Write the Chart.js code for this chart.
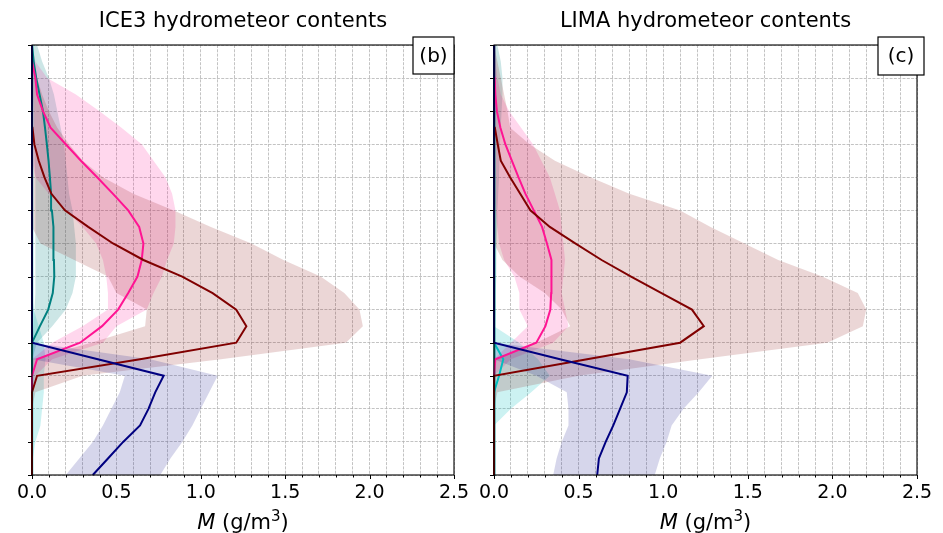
<!DOCTYPE html>
<html lang="en">

<head>
    <meta charset="UTF-8">
    <title>Hydrometeor contents</title>
    <script src="https://cdn.jsdelivr.net/npm/chart.js"></script>
    <style>
        body { margin: 0; background: #fff; }
        .panel { position: absolute; top: 0; }
    </style>
</head>

<body>
    <canvas id="chartIce3" class="panel" width="478" height="533" style="left:0px"></canvas>
    <canvas id="chartLima" class="panel" width="473" height="533" style="left:470px"></canvas>

<script>
    // model levels, bottom to top
    const levels = [0, 0.5, 1, 1.5, 2, 2.5, 3, 3.5, 4, 4.5, 5, 5.5, 6, 6.5, 7, 7.5, 8, 8.5, 9, 9.5, 10, 10.5, 11, 11.5, 12, 12.5, 13];

    // axis ticks
    const xTicks = [0, 0.1, 0.2, 0.3, 0.4, 0.5, 0.6, 0.7, 0.8, 0.9, 1, 1.1, 1.2, 1.3, 1.4, 1.5, 1.6, 1.7, 1.8, 1.9, 2, 2.1, 2.2, 2.3, 2.4, 2.5];
    const xTickLabels = [0, 0.5, 1, 1.5, 2, 2.5];
    const yTicks = [0, 1, 2, 3, 4, 5, 6, 7, 8, 9, 10, 11, 12, 13];

    // ICE3 : mean profile and min / max envelope (g/m3)
    const ice3RainMean = [0.36, 0.45, 0.54, 0.64, 0.69, 0.73, 0.78, 0.39, 0, 0, 0, 0, 0, 0, 0, 0, 0, 0, 0, 0, 0, 0, 0, 0, 0, 0, 0];
    const ice3RainMin = [0.20, 0.28, 0.36, 0.42, 0.47, 0.52, 0.55, 0, 0, 0, 0, 0, 0, 0, 0, 0, 0, 0, 0, 0, 0, 0, 0, 0, 0, 0, 0];
    const ice3RainMax = [0.76, 0.82, 0.89, 0.95, 1.00, 1.05, 1.10, 0.70, 0, 0, 0, 0, 0, 0, 0, 0, 0, 0, 0, 0, 0, 0, 0, 0, 0, 0, 0];

    const ice3CloudMean = [0, 0, 0.003, 0.005, 0.005, 0.005, 0.005, 0.005, 0.003, 0, 0, 0, 0, 0, 0, 0, 0, 0, 0, 0, 0, 0, 0, 0, 0, 0, 0];
    const ice3CloudMin = [0, 0, 0, 0, 0, 0, 0, 0, 0, 0, 0, 0, 0, 0, 0, 0, 0, 0, 0, 0, 0, 0, 0, 0, 0, 0, 0];
    const ice3CloudMax = [0, 0.005, 0.02, 0.05, 0.06, 0.07, 0.07, 0.08, 0.07, 0.04, 0.01, 0, 0, 0, 0, 0, 0, 0, 0, 0, 0, 0, 0, 0, 0, 0, 0];

    const ice3IceMean = [0, 0, 0, 0, 0, 0, 0, 0, 0, 0.047, 0.096, 0.123, 0.132, 0.130, 0.128, 0.126, 0.118, 0.113, 0.106, 0.098, 0.088, 0.077, 0.065, 0.045, 0.025, 0.01, 0];
    const ice3IceMin = [0, 0, 0, 0, 0, 0, 0, 0, 0, 0.01, 0.015, 0.02, 0.02, 0.02, 0.02, 0.02, 0.02, 0.02, 0.02, 0.015, 0.015, 0.01, 0.01, 0.005, 0, 0, 0];
    const ice3IceMax = [0, 0, 0, 0, 0, 0, 0, 0, 0.03, 0.12, 0.20, 0.24, 0.26, 0.26, 0.26, 0.25, 0.24, 0.22, 0.21, 0.20, 0.19, 0.17, 0.15, 0.13, 0.10, 0.06, 0.03];

    const ice3SnowMean = [0, 0, 0, 0, 0, 0, 0, 0.03, 0.285, 0.415, 0.51, 0.57, 0.625, 0.65, 0.66, 0.635, 0.57, 0.48, 0.386, 0.29, 0.20, 0.11, 0.065, 0.03, 0.02, 0, 0];
    const ice3SnowMin = [0, 0, 0, 0, 0, 0, 0, 0, 0.12, 0.30, 0.45, 0.45, 0.44, 0.42, 0.38, 0.30, 0.20, 0.10, 0.02, 0, 0, 0, 0, 0, 0, 0, 0];
    const ice3SnowMax = [0, 0, 0, 0, 0, 0, 0.02, 0.12, 0.42, 0.50, 0.68, 0.72, 0.77, 0.80, 0.84, 0.85, 0.85, 0.83, 0.79, 0.72, 0.65, 0.53, 0.40, 0.26, 0.09, 0.02, 0];

    const ice3GraupelMean = [0, 0, 0, 0, 0, 0, 0.03, 0.64, 1.21, 1.27, 1.21, 1.07, 0.89, 0.66, 0.48, 0.333, 0.195, 0.115, 0.074, 0.04, 0.014, 0.003, 0, 0, 0, 0, 0];
    const ice3GraupelMin = [0, 0, 0, 0, 0, 0, 0, 0, 0.35, 0.67, 0.68, 0.50, 0.45, 0.25, 0.05, 0, 0, 0, 0, 0, 0, 0, 0, 0, 0, 0, 0];
    const ice3GraupelMax = [0, 0, 0, 0, 0, 0.02, 0.30, 1.12, 1.86, 1.96, 1.94, 1.85, 1.71, 1.49, 1.30, 1.06, 0.84, 0.60, 0.42, 0.30, 0.22, 0.15, 0.10, 0.06, 0.03, 0.01, 0];

    // LIMA
    const limaRainMean = [0.61, 0.62, 0.66, 0.705, 0.745, 0.785, 0.79, 0.39, 0, 0, 0, 0, 0, 0, 0, 0, 0, 0, 0, 0, 0, 0, 0, 0, 0, 0, 0];
    const limaRainMin = [0.35, 0.37, 0.40, 0.44, 0.44, 0.43, 0.25, 0, 0, 0, 0, 0, 0, 0, 0, 0, 0, 0, 0, 0, 0, 0, 0, 0, 0, 0, 0];
    const limaRainMax = [0.95, 0.98, 1.02, 1.05, 1.12, 1.21, 1.29, 0.80, 0, 0, 0, 0, 0, 0, 0, 0, 0, 0, 0, 0, 0, 0, 0, 0, 0, 0, 0];

    const limaCloudMean = [0, 0, 0, 0, 0, 0, 0.03, 0.055, 0, 0, 0, 0, 0, 0, 0, 0, 0, 0, 0, 0, 0, 0, 0, 0, 0, 0, 0];
    const limaCloudMin = [0, 0, 0, 0, 0, 0, 0, 0, 0, 0, 0, 0, 0, 0, 0, 0, 0, 0, 0, 0, 0, 0, 0, 0, 0, 0, 0];
    const limaCloudMax = [0, 0, 0, 0, 0.10, 0.22, 0.33, 0.26, 0.15, 0, 0, 0, 0, 0, 0, 0, 0, 0, 0, 0, 0, 0, 0, 0, 0, 0, 0];

    const limaIceMean = [0, 0, 0, 0, 0, 0, 0, 0, 0, 0.004, 0.004, 0.004, 0.004, 0.004, 0.004, 0.004, 0.004, 0.004, 0.004, 0.004, 0.004, 0.004, 0.004, 0.004, 0.004, 0.004, 0];
    const limaIceMin = [0, 0, 0, 0, 0, 0, 0, 0, 0, 0, 0, 0, 0, 0, 0, 0, 0, 0, 0, 0, 0, 0, 0, 0, 0, 0, 0];
    const limaIceMax = [0, 0, 0, 0, 0, 0, 0, 0, 0, 0.005, 0.01, 0.01, 0.012, 0.015, 0.015, 0.02, 0.02, 0.025, 0.03, 0.03, 0.035, 0.04, 0.045, 0.05, 0.05, 0.04, 0.02];

    const limaSnowMean = [0, 0, 0, 0, 0, 0, 0, 0.008, 0.25, 0.304, 0.333, 0.338, 0.342, 0.337, 0.313, 0.284, 0.235, 0.186, 0.145, 0.106, 0.067, 0.038, 0.017, 0.008, 0.004, 0.002, 0];
    const limaSnowMin = [0, 0, 0, 0, 0, 0, 0, 0, 0.10, 0.20, 0.15, 0.15, 0.12, 0.06, 0.03, 0.02, 0.01, 0, 0, 0, 0, 0, 0, 0, 0, 0, 0];
    const limaSnowMax = [0, 0, 0, 0, 0, 0, 0, 0.10, 0.35, 0.44, 0.42, 0.40, 0.41, 0.42, 0.41, 0.40, 0.39, 0.36, 0.33, 0.28, 0.23, 0.16, 0.09, 0.04, 0.02, 0.01, 0];

    const limaGraupelMean = [0, 0, 0, 0, 0, 0, 0, 0.55, 1.10, 1.24, 1.17, 0.99, 0.81, 0.636, 0.48, 0.33, 0.215, 0.155, 0.095, 0.04, 0.022, 0.005, 0, 0, 0, 0, 0];
    const limaGraupelMin = [0, 0, 0, 0, 0, 0, 0, 0, 0.25, 0.45, 0.40, 0.30, 0.15, 0.05, 0, 0, 0, 0, 0, 0, 0, 0, 0, 0, 0, 0, 0];
    const limaGraupelMax = [0, 0, 0, 0, 0, 0.02, 0.50, 1.22, 1.97, 2.18, 2.20, 2.15, 1.94, 1.68, 1.48, 1.28, 1.10, 0.80, 0.57, 0.36, 0.21, 0.096, 0.08, 0.06, 0.04, 0.02, 0];

    // colours per species: line and shaded envelope
    const colRain = ['#000080', 'rgba(0, 0, 128, 0.16)'];
    const colCloud = ['#00bfbf', 'rgba(0, 191, 191, 0.2)'];
    const colIce = ['#008080', 'rgba(0, 128, 128, 0.2)'];
    const colSnow = ['#ff1493', 'rgba(255, 20, 147, 0.17)'];
    const colGraupel = ['#800000', 'rgba(128, 0, 0, 0.16)'];

    const FONT = '"DejaVu Sans", sans-serif';
    Chart.defaults.font.family = FONT;

    function profile(xs) {
        return xs.map((x, i) => ({ x: x, y: levels[i] }));
    }

    // closed polygon: up the min side, back down the max side
    function envelope(lo, hi) {
        return profile(lo).concat(profile(hi).reverse());
    }

    function bandDataset(lo, hi, col) {
        return {
            data: envelope(lo, hi),
            fill: 'shape',
            backgroundColor: col[1],
            borderColor: 'rgba(0,0,0,0)',
            borderWidth: 0,
            pointRadius: 0,
            tension: 0
        };
    }

    function lineDataset(mean, col) {
        return {
            data: profile(mean),
            fill: false,
            borderColor: col[0],
            borderWidth: 2,
            pointRadius: 0,
            tension: 0,
            clip: 4
        };
    }

    function round1(v) {
        return Math.round(v * 10) / 10;
    }

    // titles, frame, tick marks, axis label and panel tag
    function decorations(title, tag, tagBox) {
        return {
            id: 'decorations',
            afterDraw(chart) {
                const ctx = chart.ctx;
                const a = chart.chartArea;
                const xs = chart.scales.x;
                const ys = chart.scales.y;
                const cx = (a.left + a.right) / 2;
                ctx.save();

                ctx.strokeStyle = '#000';
                ctx.lineWidth = 1;
                ctx.beginPath();
                ys.ticks.forEach(t => {
                    const py = Math.round(ys.getPixelForValue(t.value)) + 0.5;
                    ctx.moveTo(a.left - 4, py);
                    ctx.lineTo(a.left, py);
                });
                xs.ticks.forEach(t => {
                    const px = Math.round(xs.getPixelForValue(t.value)) + 0.5;
                    const major = xTickLabels.includes(round1(t.value));
                    ctx.moveTo(px, a.bottom);
                    ctx.lineTo(px, a.bottom + (major ? 4 : 2.5));
                });
                ctx.stroke();

                ctx.lineWidth = 1.1;
                ctx.strokeRect(a.left, a.top, a.right - a.left, a.bottom - a.top);

                ctx.fillStyle = '#000';
                ctx.textBaseline = 'alphabetic';
                ctx.textAlign = 'center';
                ctx.font = '21px ' + FONT;
                ctx.fillText(title, cx, 27);

                // M (g/m^3) with italic M and superscript 3
                const parts = [
                    { t: 'M', f: 'italic 21px ' + FONT, dy: 0 },
                    { t: ' (g/m', f: '21px ' + FONT, dy: 0 },
                    { t: '3', f: '15px ' + FONT, dy: -8 },
                    { t: ')', f: '21px ' + FONT, dy: 0 }
                ];
                let total = 0;
                parts.forEach(p => { ctx.font = p.f; p.w = ctx.measureText(p.t).width; total += p.w; });
                let x = cx - total / 2;
                ctx.textAlign = 'left';
                parts.forEach(p => {
                    ctx.font = p.f;
                    ctx.fillText(p.t, x, 529 + p.dy);
                    x += p.w;
                });

                // panel tag box
                ctx.fillStyle = '#fff';
                ctx.fillRect(tagBox.x, tagBox.y, tagBox.w, tagBox.h);
                ctx.strokeStyle = '#000';
                ctx.lineWidth = 1.2;
                ctx.strokeRect(tagBox.x, tagBox.y, tagBox.w, tagBox.h);
                ctx.fillStyle = '#000';
                ctx.textAlign = 'center';
                ctx.textBaseline = 'middle';
                ctx.font = '20px ' + FONT;
                ctx.fillText(tag, tagBox.x + tagBox.w / 2, tagBox.y + tagBox.h / 2 + 1);

                ctx.restore();
            }
        };
    }

    function makePanel(id, title, tag, tagBox, species, yWidth, padRight) {
        const datasets = [];
        // lines first so they sit above every envelope
        species.forEach(s => datasets.push(lineDataset(s.mean, s.col)));
        species.forEach(s => datasets.push(bandDataset(s.min, s.max, s.col)));

        const gridStyle = { color: '#b4b4b4', lineWidth: 0.8, drawTicks: false };
        const borderStyle = { display: false, dash: [3, 1.3] };

        new Chart(document.getElementById(id), {
            type: 'line',
            data: { datasets: datasets },
            options: {
                responsive: false,
                animation: false,
                events: [],
                layout: { padding: { top: 45, right: padRight, bottom: 0, left: 0 } },
                plugins: {
                    legend: { display: false },
                    tooltip: { enabled: false },
                    filler: { drawTime: 'beforeDatasetsDraw' }
                },
                scales: {
                    x: {
                        type: 'linear',
                        min: 0,
                        max: 2.5,
                        afterBuildTicks: s => { s.ticks = xTicks.map(v => ({ value: v })); },
                        afterFit: s => { s.height = 58; },
                        ticks: {
                            autoSkip: false,
                            maxRotation: 0,
                            padding: 7,
                            color: '#000',
                            font: { size: 19 },
                            callback: v => xTickLabels.includes(round1(v)) ? round1(v).toFixed(1) : ''
                        },
                        grid: gridStyle,
                        border: borderStyle
                    },
                    y: {
                        type: 'linear',
                        min: 0,
                        max: 13,
                        afterBuildTicks: s => { s.ticks = yTicks.map(v => ({ value: v })); },
                        afterFit: s => { s.width = yWidth; },
                        ticks: { display: false },
                        grid: gridStyle,
                        border: borderStyle
                    }
                }
            },
            plugins: [decorations(title, tag, tagBox)]
        });
    }

    makePanel('chartIce3', 'ICE3 hydrometeor contents', '(b)', { x: 413, y: 37, w: 41, h: 37 }, [
        { mean: ice3RainMean, min: ice3RainMin, max: ice3RainMax, col: colRain },
        { mean: ice3GraupelMean, min: ice3GraupelMin, max: ice3GraupelMax, col: colGraupel },
        { mean: ice3SnowMean, min: ice3SnowMin, max: ice3SnowMax, col: colSnow },
        { mean: ice3IceMean, min: ice3IceMin, max: ice3IceMax, col: colIce },
        { mean: ice3CloudMean, min: ice3CloudMin, max: ice3CloudMax, col: colCloud }
    ], 32, 24);

    makePanel('chartLima', 'LIMA hydrometeor contents', '(c)', { x: 408, y: 37, w: 46, h: 38 }, [
        { mean: limaRainMean, min: limaRainMin, max: limaRainMax, col: colRain },
        { mean: limaGraupelMean, min: limaGraupelMin, max: limaGraupelMax, col: colGraupel },
        { mean: limaSnowMean, min: limaSnowMin, max: limaSnowMax, col: colSnow },
        { mean: limaIceMean, min: limaIceMin, max: limaIceMax, col: colIce },
        { mean: limaCloudMean, min: limaCloudMin, max: limaCloudMax, col: colCloud }
    ], 24, 26);
</script>
</body>

</html>
